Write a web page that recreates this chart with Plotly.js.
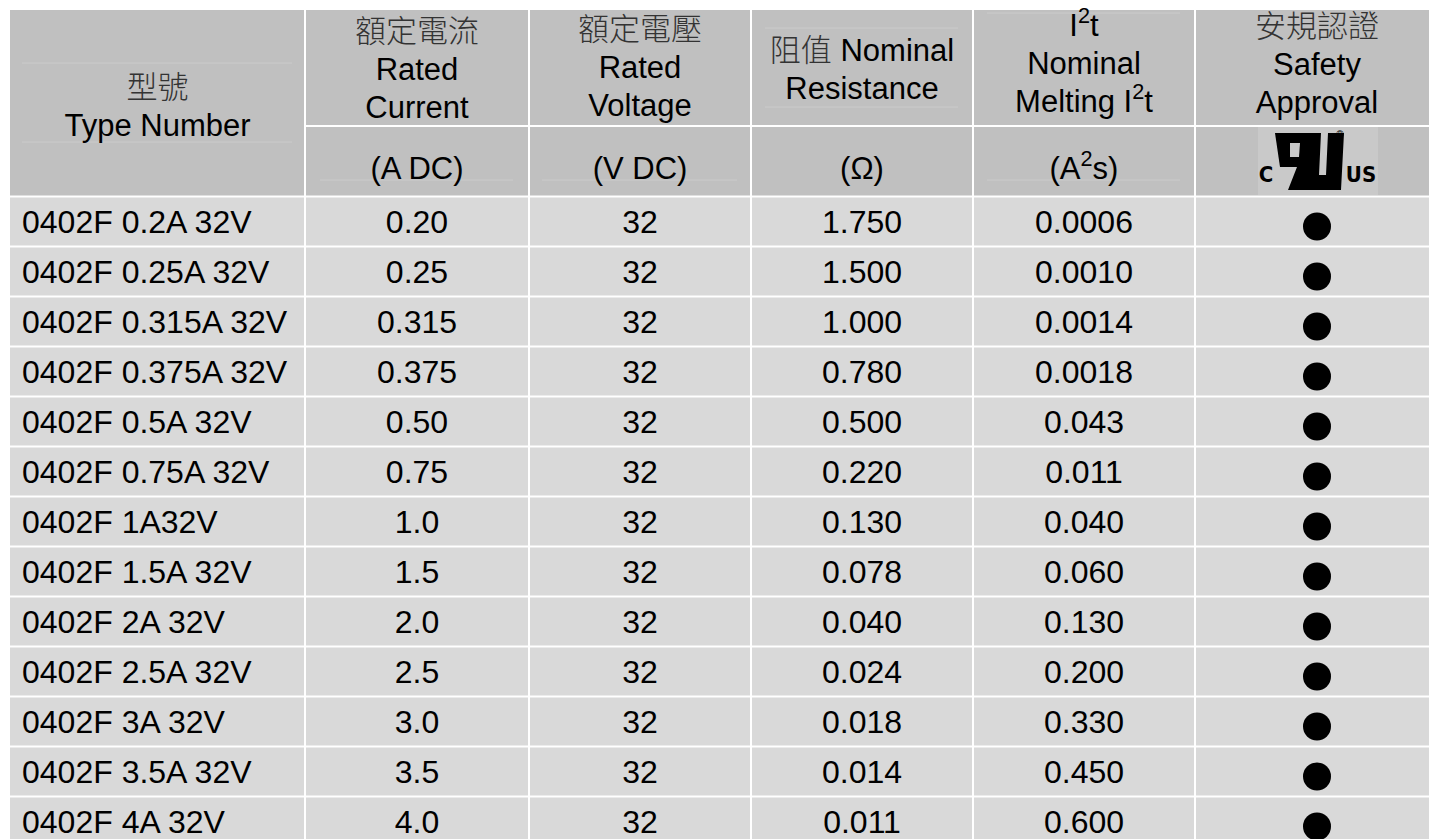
<!DOCTYPE html>
<html><head><meta charset="utf-8">
<script src="https://cdn.plot.ly/plotly-3.0.1.min.js"></script>
<style>html,body{margin:0;padding:0;background:#fff;overflow:hidden}#chart{width:1429px;height:839px}</style>
</head><body><div id="chart"></div>
<script>
// ---------- data ----------
const typeNumbers = ["0402F 0.2A 32V","0402F 0.25A 32V","0402F 0.315A 32V","0402F 0.375A 32V","0402F 0.5A 32V","0402F 0.75A 32V","0402F 1A32V","0402F 1.5A 32V","0402F 2A 32V","0402F 2.5A 32V","0402F 3A 32V","0402F 3.5A 32V","0402F 4A 32V"];
const ratedCurrent = ["0.20","0.25","0.315","0.375","0.50","0.75","1.0","1.5","2.0","2.5","3.0","3.5","4.0"];
const ratedVoltage = ["32","32","32","32","32","32","32","32","32","32","32","32","32"];
const nominalResistance = ["1.750","1.500","1.000","0.780","0.500","0.220","0.130","0.078","0.040","0.024","0.018","0.014","0.011"];
const meltingI2t = ["0.0006","0.0010","0.0014","0.0018","0.043","0.011","0.040","0.060","0.130","0.200","0.330","0.450","0.600"];
const safetyApproval = [1,1,1,1,1,1,1,1,1,1,1,1,1];

const headerLines = [
  ["型號","Type Number"],
  ["額定電流","Rated","Current"],
  ["額定電壓","Rated","Voltage"],
  ["<span style=\"color:#333;font-weight:300\">阻值</span> Nominal","Resistance"],
  ["I<sup>2</sup>t","Nominal","Melting I<sup>2</sup>t"],
  ["安規認證","Safety","Approval"]
];
const unitLabels = ["(A DC)","(V DC)","(Ω)","(A<sup>2</sup>s)"];
const logoLabels = ["C","US","®"];

// ---------- layout constants ----------
const W = 1429, H = 839;
const colEdges = [10, 305, 529, 751, 973, 1195, 1439];
const headTop = 10, headMid = 126, headBot = 196.5, rowH = 50;
const HEAD_BG = "#c0c0c0", ROW_BG = "#d9d9d9", LOGO_BG = "#c9c9c9";
const FONT = "Liberation Sans, Arial, 'Noto Sans CJK TC', sans-serif";
const CJK = "'Noto Sans CJK TC', 'Noto Sans CJK SC', sans-serif";
const colCenter = j => (colEdges[j] + colEdges[j + 1]) / 2;
const rowTop = i => headBot + rowH * i;
const rowTextY = i => rowTop(i) + rowH / 2 + 3;
const headCenters = [109, 72, 70, 72, 66, 67];
const LINE = 38;
const UNIT_Y = 171;

const shapes = [];
function rect(x0, y0, x1, y1, c) {
  shapes.push({type: "rect", xref: "x", yref: "y", x0, y0, x1, y1, fillcolor: c, line: {width: 0}, layer: "below"});
}
function hline(x0, x1, y, c) {
  shapes.push({type: "line", xref: "x", yref: "y", x0, x1, y0: y, y1: y, line: {color: c, width: 1}, layer: "below"});
}
// header cells
for (let j = 0; j < 6; j++) {
  const x0 = j === 0 ? colEdges[0] : colEdges[j] + 1;
  const x1 = colEdges[j + 1] - 1;
  if (j === 0) rect(x0, headTop, x1, headBot - 1, HEAD_BG);
  else {
    rect(x0, headTop, x1, headMid - 1, HEAD_BG);
    rect(x0, headMid + 1, x1, headBot - 1, HEAD_BG);
  }
}
// data cells
const nRows = typeNumbers.length;
for (let i = 0; i < nRows; i++) {
  for (let j = 0; j < 6; j++) {
    const x0 = j === 0 ? colEdges[0] : colEdges[j] + 1;
    rect(x0, rowTop(i) + 1, colEdges[j + 1] - 1, rowTop(i + 1) - 1, ROW_BG);
  }
}
// faint scan artefact lines inside the header
const FAINT = "#cbcbcb";
hline(22, 292, 63, FAINT); hline(22, 292, 142, FAINT);
hline(320, 513, 180, FAINT); hline(542, 737, 180, FAINT);
hline(765, 958, 28, FAINT); hline(765, 958, 107, FAINT);
hline(987, 1180, 13, FAINT); hline(987, 1180, 180, FAINT);

// cUL recognised-component mark (decorative logo, drawn as paths)
const LX = 1255, LY = 125;
rect(1258, 127, 1378, 195, LOGO_BG);
function logoPath(pts, c) {
  const d = pts.map((p, k) => (k ? "L" : "M") + (LX + p[0]) + "," + (LY + p[1])).join(" ") + " Z";
  shapes.push({type: "path", xref: "x", yref: "y", path: d, fillcolor: c, line: {width: 0}, layer: "below"});
}
logoPath([[20,8],[58,8],[55,42],[25,42]], "#000");                                  // bowl
logoPath([[45,8],[66,8],[64,50],[71,50],[73,8],[89,8],[86,65],[33,65],[42,42]], "#000"); // stem + U
logoPath([[35,18],[45,18],[44,32],[35,32]], LOGO_BG);                              // bowl counter

// ---------- traces ----------
const traces = [];
function textTrace(xs, ys, texts, opts) {
  traces.push(Object.assign({
    type: "scatter", mode: "text", x: xs, y: ys, text: texts,
    textposition: "middle center", hoverinfo: "skip", cliponaxis: false, showlegend: false,
    textfont: {family: FONT, size: 32, color: "#000"}
  }, opts || {}));
}
const idx = typeNumbers.map((_, i) => i);
// data columns
textTrace(idx.map(() => colEdges[0] + 12), idx.map(rowTextY), typeNumbers, {textposition: "middle right"});
[ratedCurrent, ratedVoltage, nominalResistance, meltingI2t].forEach((col, k) => {
  textTrace(col.map(() => colCenter(k + 1)), col.map((_, i) => rowTextY(i)), col);
});
// approval dots
const okRows = idx.filter(i => safetyApproval[i]);
traces.push({type: "scatter", mode: "markers", x: okRows.map(() => colCenter(5)), y: okRows.map(i => rowTextY(i) + 2),
  marker: {size: 28, color: "#000", symbol: "circle"}, hoverinfo: "skip", showlegend: false, cliponaxis: false});

// header text
const hx = [], hy = [], ht = [], zx = [], zy = [], zt = [];
headerLines.forEach((lines, j) => {
  const n = lines.length;
  lines.forEach((t, k) => {
    const y = headCenters[j] + (k - (n - 1) / 2) * LINE;
    const isCJK = /^[\u4e00-\u9fff]+$/.test(t);
    if (isCJK) { zx.push(colCenter(j)); zy.push(y); zt.push(t); }
    else { hx.push(colCenter(j)); hy.push(y); ht.push(t); }
  });
});
textTrace(hx, hy, ht, {textfont: {family: FONT, size: 31, color: "#000"}});
textTrace(zx, zy, zt, {textfont: {family: CJK, size: 31, color: "#333", weight: 300}});
textTrace(unitLabels.map((_, k) => colCenter(k + 1)), unitLabels.map(() => UNIT_Y), unitLabels, {textfont: {family: FONT, size: 31, color: "#000"}});

// logo letters
const LOGO_FONT = "'DejaVu Sans Condensed', 'Liberation Sans Narrow', 'Liberation Sans', sans-serif";
textTrace([1266, 1361], [176, 176], logoLabels.slice(0, 2).map(t => "<b>" + t + "</b>"), {textfont: {family: LOGO_FONT, size: 22, color: "#000"}});
textTrace([1340], [135], [logoLabels[2]], {textfont: {family: FONT, size: 10, color: "#000"}});

const layout = {
  width: W, height: H, margin: {l: 0, r: 0, t: 0, b: 0},
  paper_bgcolor: "#fff", plot_bgcolor: "#fff",
  xaxis: {range: [0, W], visible: false, fixedrange: true},
  yaxis: {range: [H, 0], visible: false, fixedrange: true},
  shapes, showlegend: false
};
Plotly.newPlot("chart", traces, layout, {staticPlot: true, displayModeBar: false});
</script></body></html>
